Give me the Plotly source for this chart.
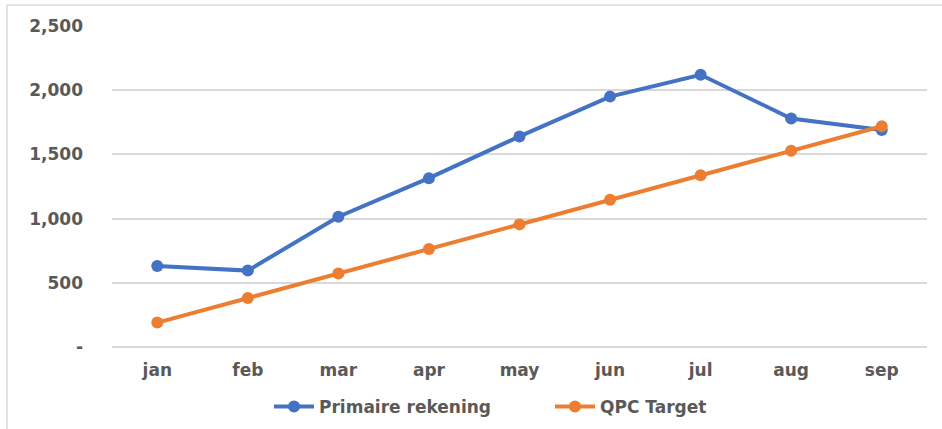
import plotly.graph_objects as go

months = ["jan", "feb", "mar", "apr", "may", "jun", "jul", "aug", "sep"]
primaire = [630, 595, 1015, 1315, 1640, 1950, 2120, 1780, 1690]
qpc_target = [190, 382, 573, 764, 955, 1146, 1337, 1528, 1719]
y_ticks = [0, 500, 1000, 1500, 2000, 2500]
y_ticktext = ["-", "500", "1,000", "1,500", "2,000", "2,500"]

W, H = 942, 429
ml, mr, mt, mb = 112, 15, 26, 82
pw, ph = W - ml - mr, H - mt - mb

FAM = "DejaVu Sans"
tfont = dict(family=FAM, size=17, color="#595959", weight="bold")

fig = go.Figure()
fig.add_trace(go.Scatter(x=months, y=primaire, name="Primaire rekening",
                         mode="lines+markers",
                         line=dict(color="#4472C4", width=4),
                         marker=dict(color="#4472C4", size=12)))
fig.add_trace(go.Scatter(x=months, y=qpc_target, name="QPC Target",
                         mode="lines+markers",
                         line=dict(color="#ED7D31", width=4),
                         marker=dict(color="#ED7D31", size=12)))

fig.update_layout(
    width=W, height=H,
    margin=dict(l=ml, r=mr, t=mt, b=mb, autoexpand=False),
    paper_bgcolor="white", plot_bgcolor="white",
    font=dict(family=FAM, size=17, color="#595959"),
    showlegend=True,
    legend=dict(orientation="h", x=(269 - ml) / pw, xanchor="left",
                y=(347 - 407) / ph, yanchor="middle",
                font=tfont, itemwidth=40, tracegroupgap=0,
                entrywidth=226, entrywidthmode="pixels"),
    xaxis=dict(range=[-0.5, len(months) - 0.5],
               showgrid=False, showline=False, zeroline=False, automargin=False,
               tickfont=tfont, ticklabelstandoff=11, fixedrange=True),
    yaxis=dict(range=[0, 2500], tickvals=y_ticks, ticktext=y_ticktext,
               automargin=False,
               showgrid=True, gridcolor="#D9D9D9", gridwidth=1.5,
               zeroline=True, zerolinecolor="#D9D9D9", zerolinewidth=1.5,
               showline=False, tickfont=tfont, ticklabelstandoff=28),
)
# outer chart border (top and left)
fig.add_shape(type="line", xref="paper", yref="paper",
              x0=(7 - ml) / pw, x1=(W - ml) / pw, y0=(H - mb - 5) / ph, y1=(H - mb - 5) / ph,
              line=dict(color="#D9D9D9", width=1.5))
fig.add_shape(type="line", xref="paper", yref="paper",
              x0=(7 - ml) / pw, x1=(7 - ml) / pw, y0=(H - mb - 5) / ph, y1=-mb / ph,
              line=dict(color="#D9D9D9", width=1.5))

fig.write_html("out.html", config={"displayModeBar": False},
               post_script="document.body.style.margin='0';")
